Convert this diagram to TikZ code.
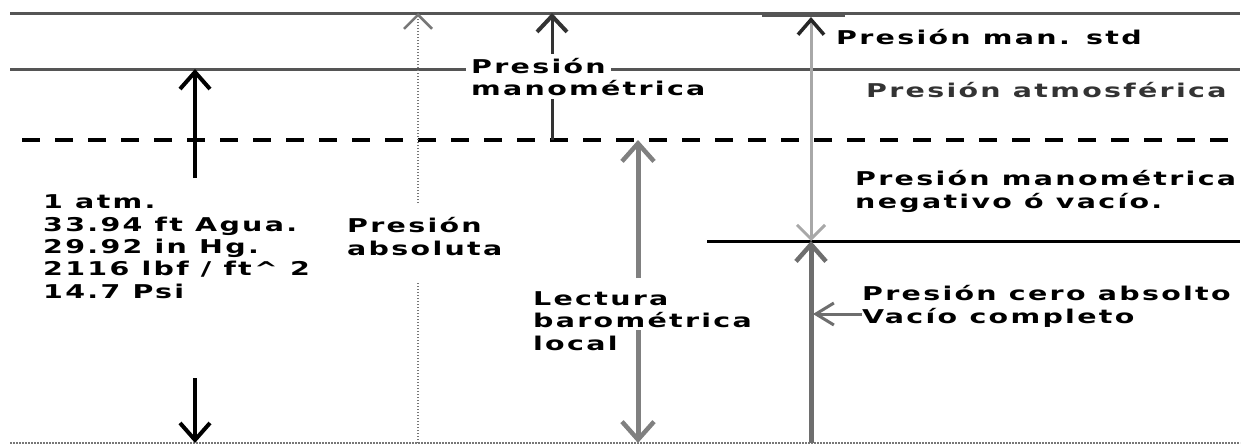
\documentclass[tikz,border=0pt]{standalone}
\usepackage{fontspec}
\setmainfont{DejaVu Sans}
\newfontfamily\lblfont{DejaVu Sans Bold}[FakeStretch=1.5,LetterSpace=12]
\usetikzlibrary{arrows.meta}
\definecolor{linegray}{HTML}{555555}
\definecolor{dotgray}{HTML}{777777}
\definecolor{barogray}{HTML}{808080}
\definecolor{vacgray}{HTML}{6E6E6E}
\definecolor{stdgray}{HTML}{A8A8A8}
\definecolor{atmtext}{HTML}{333333}

\begin{document}
\begin{tikzpicture}[x=1pt,y=-1pt]
\tikzset{
  levelline/.style={draw=linegray,line width=3pt},
  dashline/.style={draw=black,line width=4pt,dash pattern=on 18pt off 15pt},
  vacline/.style={draw=black,line width=3pt},
  zeroline/.style={draw=dotgray,line width=2pt,dash pattern=on 2pt off 1pt},
  blkarrow/.style={draw=black,line width=4.5pt,-{Straight Barb[line width=4pt,length=17pt,width=30pt]}},
  dotarrow/.style={draw=dotgray,line width=2pt,dash pattern=on 1.5pt off 1.5pt,-{Straight Barb[line width=2.5pt,length=14pt,width=28pt]}},
  dotline/.style={draw=dotgray,line width=2pt,dash pattern=on 1.5pt off 1.5pt},
  gaugearrow/.style={draw=black!80,line width=3pt,-{Straight Barb[line width=4pt,length=16pt,width=30pt]}},
  baroarrow/.style={draw=barogray,line width=5pt,-{Straight Barb[line width=4.5pt,length=18pt,width=32pt]}},
  stdarrow/.style={draw=stdgray,line width=3pt,{Straight Barb[line width=3pt,length=14pt,width=28pt,color=stdgray]}-{Straight Barb[line width=3.5pt,length=15pt,width=26pt,color=black!85]}},
  vacarrow/.style={draw=vacgray,line width=5pt,-{Straight Barb[line width=4.5pt,length=17pt,width=30pt]}},
  zeroptr/.style={draw=vacgray,line width=3pt,-{Straight Barb[length=18pt,width=22pt,line width=3pt]}},
  lbl/.style={font=\lblfont\fontsize{19}{22.3}\selectfont,inner sep=0pt,anchor=base west,align=left},
  coverlbl/.style={lbl,fill=white,inner xsep=5pt,inner ysep=4pt}
}
\useasboundingbox (0,0) rectangle (1245,445);

% levels
\draw[levelline] (10,13) -- (1240,13);
\draw[levelline,line width=2.5pt] (762,16) -- (845,16);
\draw[levelline] (10,69) -- (1240,69);
\draw[dashline] (22,140) -- (1240,140);
\draw[vacline] (707,241) -- (1240,241);
\draw[zeroline] (10,443) -- (1240,443);

% arrow ends
\coordinate (c_atm) at (195,69);
\coordinate (c_blk1) at (195,178);
\coordinate (c_blk2) at (195,378);
\coordinate (c_blkbot) at (195,443);
\coordinate (c_abstop) at (418,13);
\coordinate (c_abs1) at (418,203);
\coordinate (c_abs2) at (418,282);
\coordinate (c_absbot) at (418,443);
\coordinate (c_gtop) at (552,13);
\coordinate (c_gbot) at (552,140);
\coordinate (c_btop) at (638,140);
\coordinate (c_b1) at (638,278);
\coordinate (c_b2) at (638,330);
\coordinate (c_bbot) at (638,443);
\coordinate (c_stop) at (811,17);
\coordinate (c_vac) at (811,241);
\coordinate (c_vbot) at (811,443);
\coordinate (c_zero) at (813,314);

\draw[blkarrow] (c_blk1) -- (c_atm);
\draw[blkarrow] (c_blk2) -- (c_blkbot);
\draw[dotline] (c_absbot) -- (c_abs2);
\draw[dotarrow] (c_abs1) -- (c_abstop);
\draw[gaugearrow] (c_gbot) -- (c_gtop);
\draw[baroarrow] (c_b1) -- (c_btop);
\draw[baroarrow] (c_b2) -- (c_bbot);
\draw[stdarrow] (c_vac) -- (c_stop);
\draw[vacarrow] (c_vbot) -- (c_vac);

% labels
\node[lbl] (n_std) at (836,44) {Presión man. std};
\node[lbl,text=atmtext] (n_atm) at (866,97) {Presión atmosférica};
\node[coverlbl] (n_man1) at (466,73) {Presión};
\node[coverlbl] (n_man2) at (466,95) {manométrica};
\node[lbl] (n_atmval) at (43,298) {1 atm.\\33.94 ft Agua.\\29.92 in Hg.\\2116 lbf / ft\textasciicircum{} 2\\14.7 Psi};
\node[lbl] (n_abs) at (347,255) {Presión\\absoluta};
\node[lbl] (n_baro) at (533,350) {Lectura\\barométrica\\local};
\node[lbl] (n_neg) at (855,208) {Presión manométrica\\negativo ó vacío.};
\node[lbl] (n_zero) at (862,323) {Presión cero absolto\\Vacío completo};
\draw[zeroptr] (n_zero.west |- c_zero) -- (c_zero);
\end{tikzpicture}
\end{document}
